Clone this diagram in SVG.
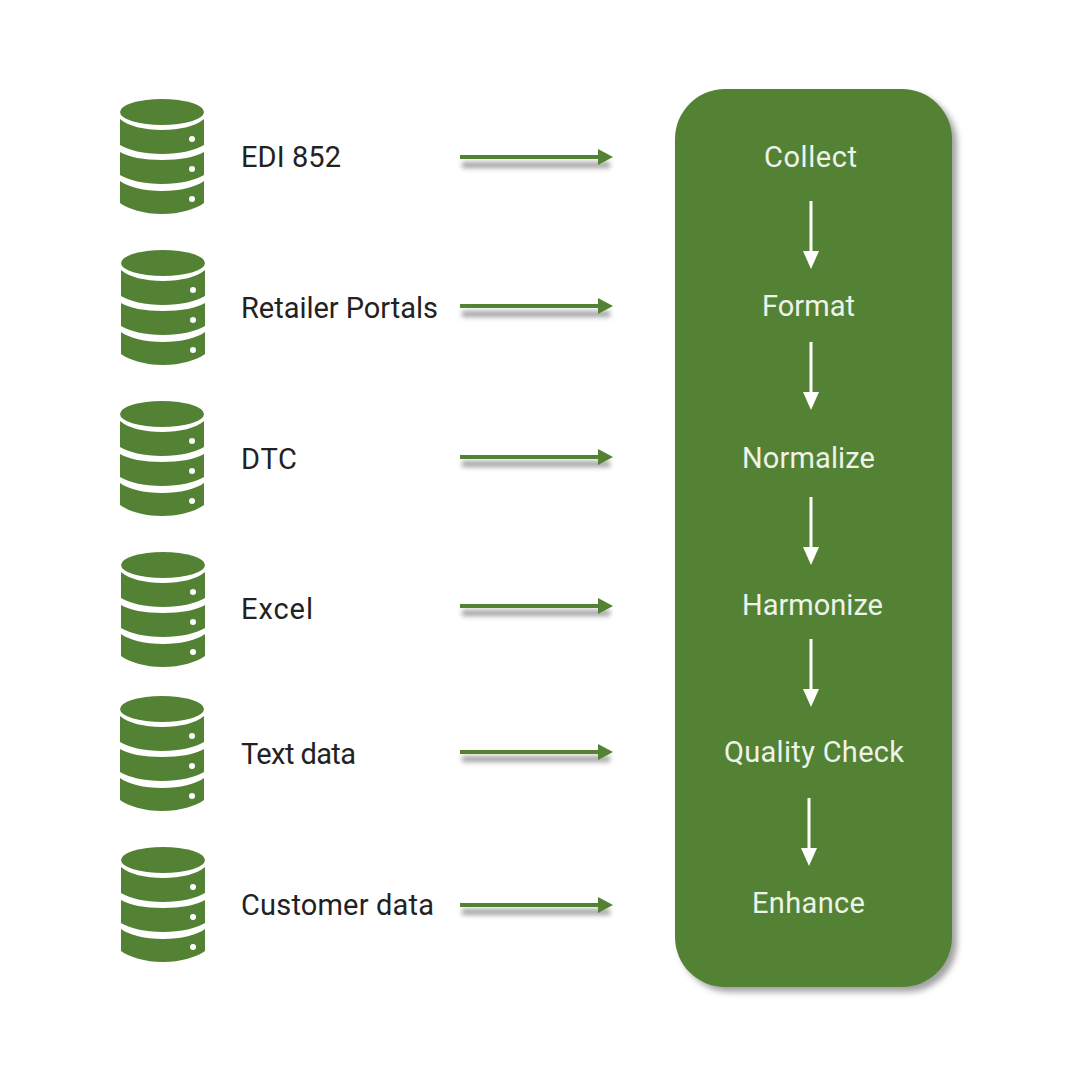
<svg xmlns="http://www.w3.org/2000/svg" width="1080" height="1080" viewBox="0 0 1080 1080">
<style>
.src{font:29px Roboto,"Liberation Sans",sans-serif;fill:#222}
.stp{font:29px Roboto,"Liberation Sans",sans-serif;fill:#eef3ea;text-anchor:middle}
.g{stroke:#548235;stroke-width:4;fill:none;marker-end:url(#ga)}
.w{stroke:#fff;stroke-width:3;fill:none;marker-end:url(#wa)}
</style>
<defs>
<marker id="ga" markerUnits="userSpaceOnUse" markerWidth="16" markerHeight="16" refX="1" refY="8" orient="auto"><path d="M0 0L15 8L0 16Z" fill="#548235"/></marker>
<marker id="wa" markerUnits="userSpaceOnUse" markerWidth="16" markerHeight="18" refX="8" refY="1" orient="0"><path d="M0 0H16L8 18Z" fill="#fff"/></marker>
<filter id="ps" x="-10%" y="-10%" width="120%" height="120%"><feGaussianBlur stdDeviation="3"/></filter>
<filter id="as" x="-10%" y="-200%" width="120%" height="500%"><feGaussianBlur stdDeviation="2.5"/></filter>
<g id="db">
<ellipse cx="42" cy="13" rx="42" ry="13" fill="#548235"/>
<path d="M0 20C8 27 24 31 42 31S76 27 84 20V46C76 51 60 55 42 55S8 51 0 46Z" fill="#548235"/>
<path d="M0 53C8 58 24 61 42 61S76 58 84 53V76C76 81 60 85 42 85S8 81 0 76Z" fill="#548235"/>
<path d="M0 82C8 88 24 92 42 92S76 88 84 82V104C76 110 60 115 42 115S8 110 0 104Z" fill="#548235"/>
<circle cx="72" cy="40" r="3" fill="#fff"/><circle cx="72" cy="70" r="3" fill="#fff"/><circle cx="72" cy="100" r="3" fill="#fff"/>
</g>
</defs>
<rect width="1080" height="1080" fill="#fff"/>
<g id="panel">
<rect x="680" y="94" width="277" height="898" rx="50" fill="#555" opacity=".55" filter="url(#ps)"/>
<rect x="675" y="89" width="277" height="898" rx="50" fill="#548235"/>
</g>
<g id="source-1"><use href="#db" x="120" y="99"/><text class="src" x="241" y="167" textLength="100">EDI 852</text></g>
<g id="source-2"><use href="#db" x="121" y="250"/><text class="src" x="241" y="318" textLength="197">Retailer Portals</text></g>
<g id="source-3"><use href="#db" x="120" y="401"/><text class="src" x="241" y="469" textLength="56">DTC</text></g>
<g id="source-4"><use href="#db" x="121" y="552"/><text class="src" x="241" y="619" textLength="72">Excel</text></g>
<g id="source-5"><use href="#db" x="120" y="696"/><text class="src" x="241" y="764" textLength="115">Text data</text></g>
<g id="source-6"><use href="#db" x="121" y="847"/><text class="src" x="241" y="915" textLength="193">Customer data</text></g>
<g id="step-1"><text class="stp" x="810.5" y="167" textLength="93">Collect</text></g>
<g id="step-2"><text class="stp" x="808.5" y="316" textLength="93">Format</text></g>
<g id="step-3"><text class="stp" x="808.5" y="468" textLength="133">Normalize</text></g>
<g id="step-4"><text class="stp" x="812.5" y="615" textLength="141">Harmonize</text></g>
<g id="step-5"><text class="stp" x="814" y="762" textLength="180">Quality Check</text></g>
<g id="step-6"><text class="stp" x="808.5" y="913" textLength="113">Enhance</text></g>
<g id="connector-shadows" filter="url(#as)" fill="#555" opacity=".55">
<rect x="462" y="162" width="148" height="6"/><rect x="462" y="311" width="148" height="6"/><rect x="462" y="461" width="148" height="6"/><rect x="462" y="610" width="148" height="6"/><rect x="462" y="756" width="148" height="6"/><rect x="462" y="909" width="148" height="6"/>
</g>
<g id="connectors">
<path class="g" d="M460 157H599"/><path class="g" d="M460 306H599"/><path class="g" d="M460 457H599"/><path class="g" d="M460 606H599"/><path class="g" d="M460 752H599"/><path class="g" d="M460 905H599"/>
<path class="w" d="M811 201V252"/><path class="w" d="M811 342V393"/><path class="w" d="M811 497V548"/><path class="w" d="M811 639V690"/><path class="w" d="M809 798V849"/>
</g>
</svg>
